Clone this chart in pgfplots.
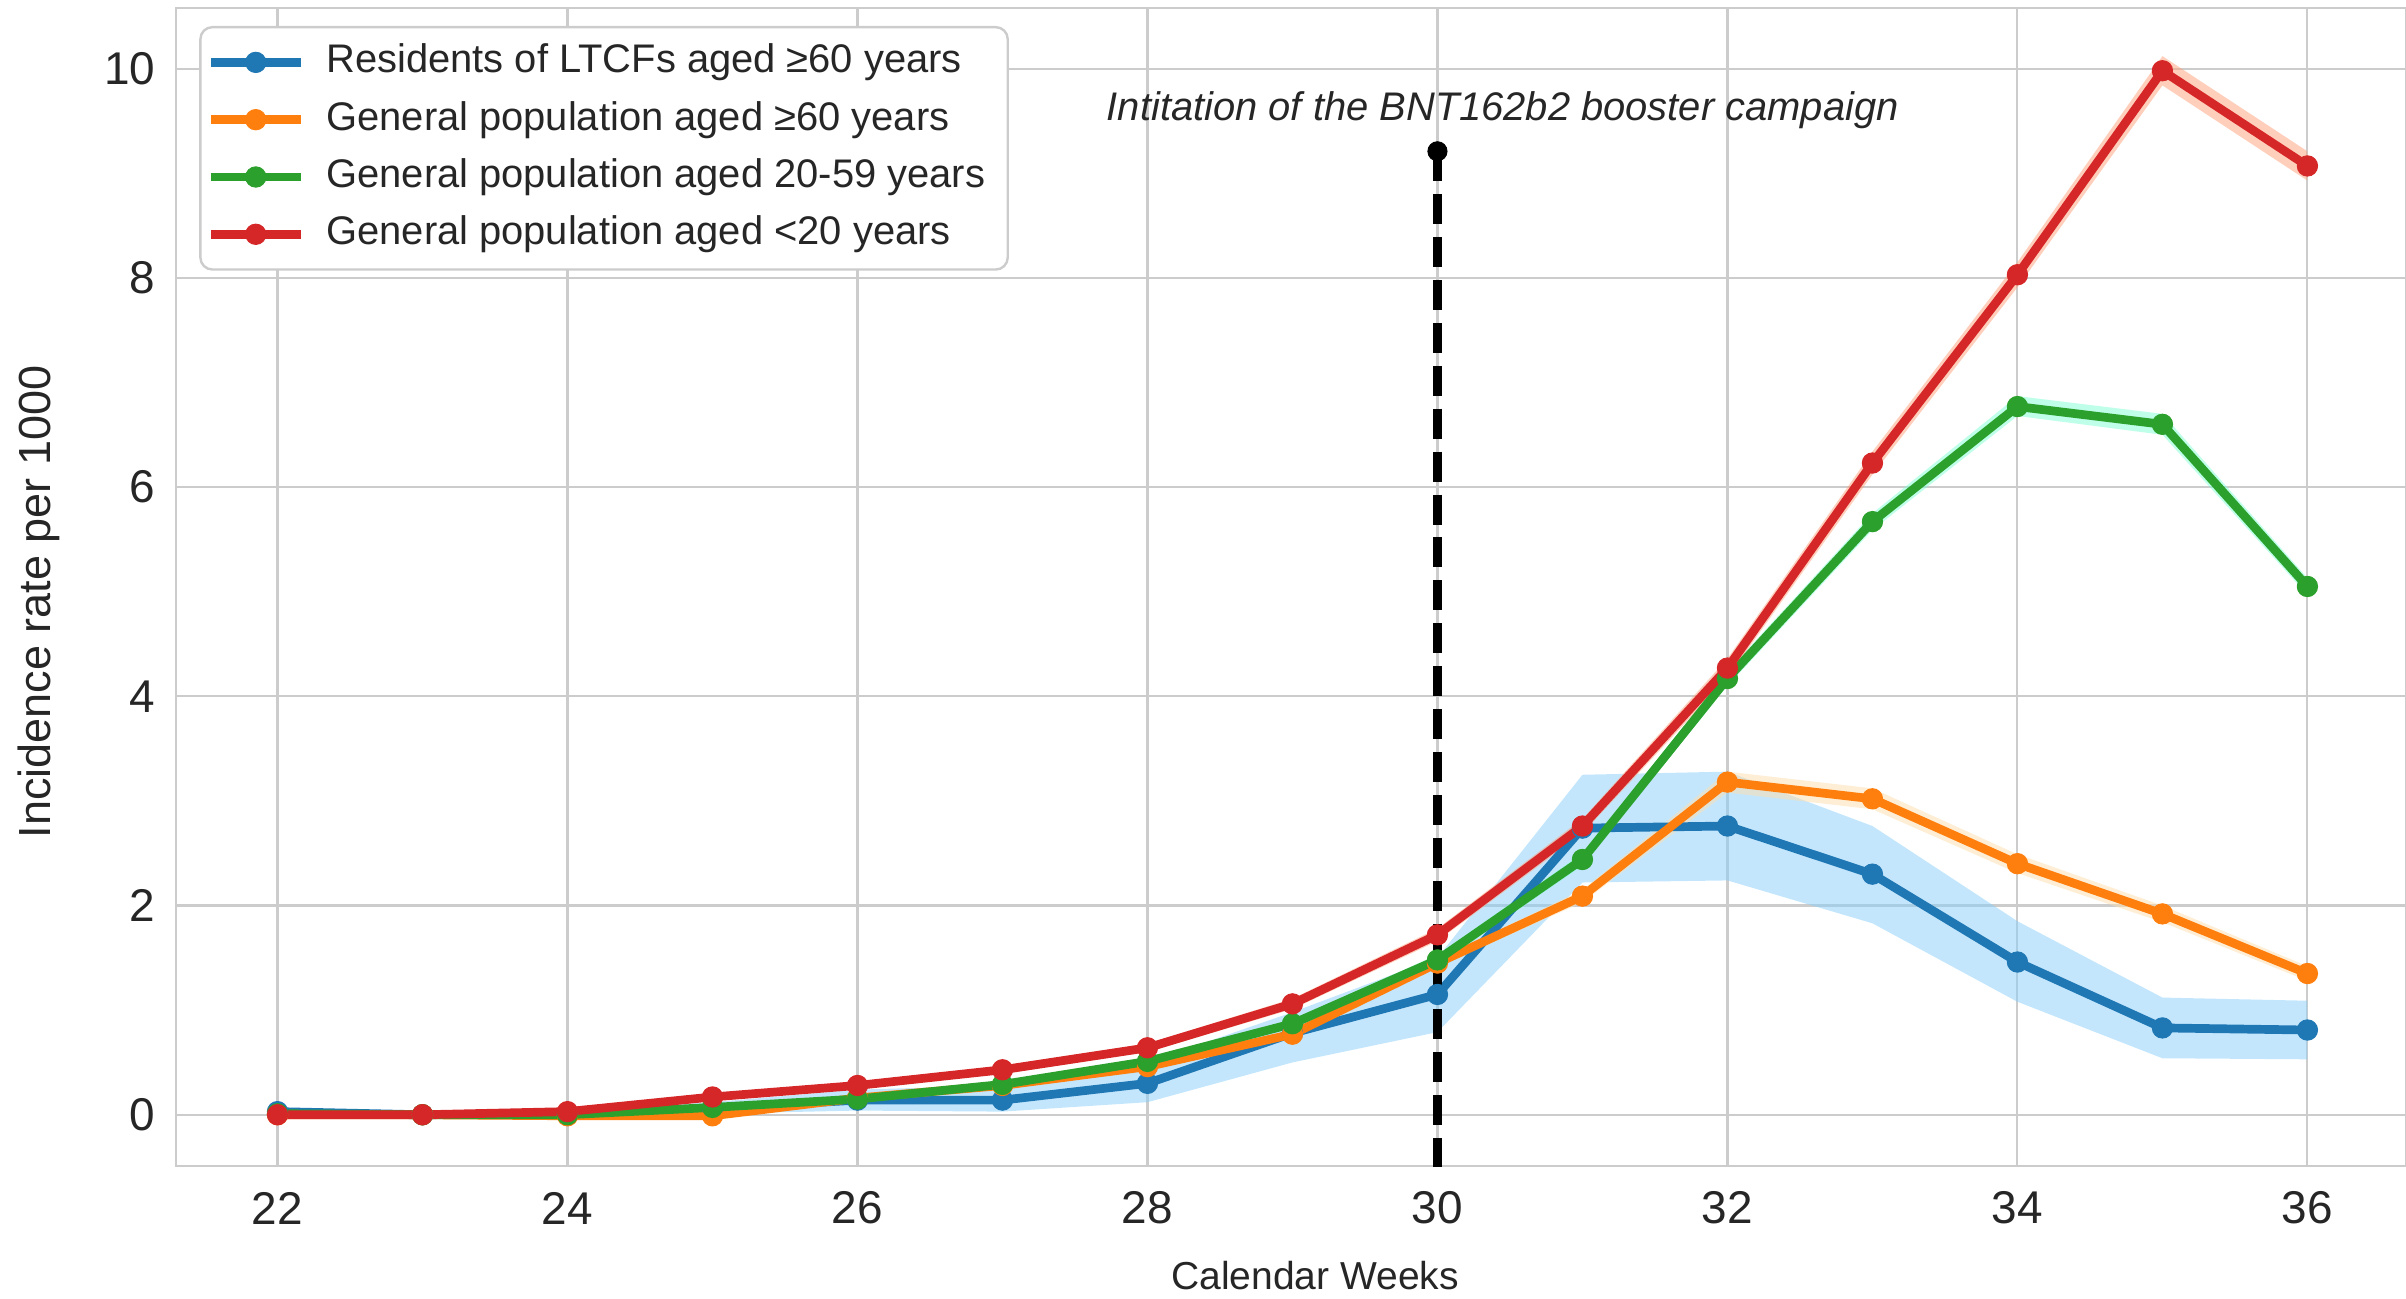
\documentclass[border=0pt]{standalone}
\usepackage{fontspec}
\setmainfont{Liberation Sans}
\usepackage{pgfplots}
\pgfplotsset{compat=1.18}
\definecolor{cblue}{HTML}{1F77B4}
\definecolor{corange}{HTML}{FF7F0E}
\definecolor{cgreen}{HTML}{2CA02C}
\definecolor{cred}{HTML}{D62728}
\definecolor{bblue}{HTML}{87CEFA}
\definecolor{borange}{HTML}{FFDEAD}
\definecolor{bgreen}{HTML}{7FFFD4}
\definecolor{bred}{HTML}{FFA07A}
\definecolor{txt}{HTML}{262626}
\definecolor{gridc}{HTML}{CCCCCC}
\begin{document}
\begin{tikzpicture}
\begin{axis}[
  at={(0,0)}, anchor=south west,
  scale only axis, width=743.33pt, height=386pt,
  xmin=21.3, xmax=36.68, ymin=-0.49, ymax=10.58,
  xtick={22,24,...,36}, ytick={0,2,...,10},
  grid=major,
  major grid style={draw=gridc, line width=0.7pt},
  axis line style={draw=gridc, line width=0.9pt},
  major tick length=0pt,
  /pgf/number format/assume math mode=true,
  tick label style={font=\fontsize{15.3}{18}\selectfont, text=txt},
  xticklabel style={anchor=center, yshift=-14pt},
  yticklabel style={anchor=east, inner xsep=0pt, xshift=-6.7pt},
  xlabel={Calendar Weeks},
  ylabel={Incidence rate per 1000},
  every axis x label/.style={at={(axis description cs:0.5108,-0.095)}, anchor=center, font=\fontsize{13}{16}\selectfont, text=txt},
  every axis y label/.style={at={(axis description cs:-0.0614,0.487)}, rotate=90, anchor=center, font=\fontsize{15}{18}\selectfont, text=txt},
  legend cell align=left,
  legend image code/.code={\draw[overlay, mark repeat=2, mark phase=2] plot coordinates {(-5.5pt,0pt) (9.5pt,0pt) (24.5pt,0pt)}; \path (0pt,0pt) -- (24.5pt,0pt);},
  legend style={at={(0.0104,0.9845)}, anchor=north west, draw=gridc, line width=0.8pt,
    rounded corners=4pt, fill=white, font=\fontsize{13.3}{16}\selectfont, text=txt,
    inner xsep=7.5pt, inner ysep=5.6pt, row sep=6.8pt,
    nodes={inner sep=0pt, text height=9.6pt, text depth=2.7pt},
    /tikz/every odd column/.append style={column sep=7.1pt}},
]
% confidence bands
\addplot[draw=none, fill=bblue, fill opacity=0.5, forget plot] coordinates {
 (22,0.06) (23,0.02) (24,0.03) (25,0.12) (26,0.24) (27,0.28) (28,0.50) (29,0.98) (30,1.50) (31,3.25) (32,3.28) (33,2.76) (34,1.85) (35,1.12) (36,1.09)
 (36,0.53) (35,0.54) (34,1.08) (33,1.83) (32,2.24) (31,2.22) (30,0.79) (29,0.50) (28,0.12) (27,0.03) (26,0.04) (25,0.01) (24,0.00) (23,0.00) (22,0.00)} -- cycle;
\addplot[draw=none, fill=borange, fill opacity=0.5, forget plot] coordinates {
 (22,0.01) (23,0.01) (24,0.00) (25,0.00) (26,0.18) (27,0.30) (28,0.49) (29,0.80) (30,1.49) (31,2.15) (32,3.28) (33,3.12) (34,2.49) (35,2.00) (36,1.42)
 (36,1.28) (35,1.84) (34,2.31) (33,2.92) (32,3.08) (31,2.03) (30,1.41) (29,0.74) (28,0.43) (27,0.26) (26,0.14) (25,-0.02) (24,-0.02) (23,-0.01) (22,-0.01)} -- cycle;
\addplot[draw=none, fill=bgreen, fill opacity=0.5, forget plot] coordinates {
 (22,0.02) (23,0.01) (24,0.01) (25,0.09) (26,0.17) (27,0.32) (28,0.54) (29,0.91) (30,1.53) (31,2.50) (32,4.24) (33,5.75) (34,6.87) (35,6.70) (36,5.13)
 (36,4.97) (35,6.50) (34,6.68) (33,5.59) (32,4.10) (31,2.38) (30,1.43) (29,0.83) (28,0.48) (27,0.26) (26,0.13) (25,0.05) (24,-0.01) (23,-0.01) (22,0.00)} -- cycle;
\addplot[draw=none, fill=bred, fill opacity=0.5, forget plot] coordinates {
 (22,0.01) (23,0.01) (24,0.05) (25,0.20) (26,0.31) (27,0.47) (28,0.68) (29,1.11) (30,1.78) (31,2.83) (32,4.36) (33,6.34) (34,8.15) (35,10.12) (36,9.21)
 (36,8.93) (35,9.84) (34,7.91) (33,6.12) (32,4.18) (31,2.69) (30,1.66) (29,1.01) (28,0.60) (27,0.39) (26,0.25) (25,0.14) (24,0.01) (23,-0.01) (22,-0.01)} -- cycle;
% lines
\addplot[cblue, line width=2.9pt, mark=*, mark size=3.4pt, mark options={solid, line width=0.3pt}] coordinates {
 (22,0.03) (23,0.00) (24,0.01) (25,0.06) (26,0.14) (27,0.14) (28,0.30) (29,0.78) (30,1.15) (31,2.74) (32,2.76) (33,2.30) (34,1.46) (35,0.83) (36,0.81)};
\addlegendentry{Residents of LTCFs aged ≥60 years}
\addplot[corange, line width=2.9pt, mark=*, mark size=3.4pt, mark options={solid, line width=0.3pt}] coordinates {
 (22,0.00) (23,0.00) (24,-0.01) (25,-0.01) (26,0.16) (27,0.28) (28,0.46) (29,0.77) (30,1.45) (31,2.09) (32,3.18) (33,3.02) (34,2.40) (35,1.92) (36,1.35)};
\addlegendentry{General population aged ≥60 years}
\addplot[cgreen, line width=2.9pt, mark=*, mark size=3.4pt, mark options={solid, line width=0.3pt}] coordinates {
 (22,0.01) (23,0.00) (24,0.00) (25,0.07) (26,0.15) (27,0.29) (28,0.51) (29,0.87) (30,1.48) (31,2.44) (32,4.17) (33,5.67) (34,6.77) (35,6.60) (36,5.05)};
\addlegendentry{General population aged 20-59 years}
\addplot[cred, line width=2.9pt, mark=*, mark size=3.4pt, mark options={solid, line width=0.3pt}] coordinates {
 (22,0.00) (23,0.00) (24,0.03) (25,0.17) (26,0.28) (27,0.43) (28,0.64) (29,1.06) (30,1.72) (31,2.76) (32,4.27) (33,6.23) (34,8.03) (35,9.98) (36,9.07)};
\addlegendentry{General population aged <20 years}
% booster campaign marker
\addplot[black, line width=2.7pt, dash pattern=on 10pt off 4.3pt, forget plot] coordinates {(30,9.21) (30,-0.7)};
\addplot[black, only marks, mark=*, mark size=3.2pt, mark options={line width=0.3pt}, forget plot] coordinates {(30,9.21)};
\node[anchor=base, inner sep=0pt, font=\fontsize{13.3}{16}\selectfont\itshape, text=txt] at (axis cs:30.45,9.5) {Intitation of the BNT162b2 booster campaign};
\end{axis}
\pgfresetboundingbox
\useasboundingbox (-58.67pt,-44.33pt) rectangle (743.33pt,388.67pt);
\end{tikzpicture}
\end{document}
